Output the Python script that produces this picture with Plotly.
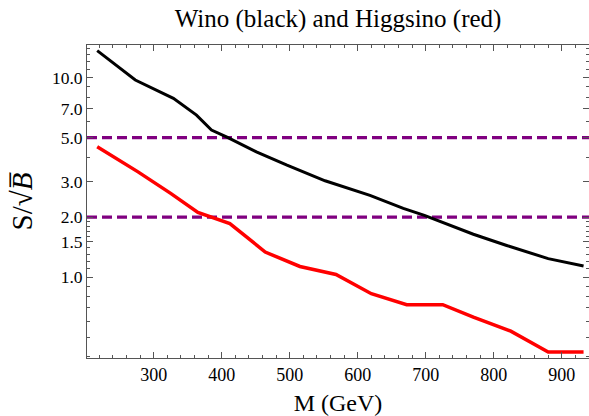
import plotly.graph_objects as go

# Wino (black) curve
wino_mass = [217, 273, 329, 363, 385, 407, 451, 496, 552, 618, 667, 698, 770, 819, 880, 932]
wino_sig = [13.67, 9.74, 7.88, 6.49, 5.46, 5.05, 4.25, 3.64, 3.04, 2.57, 2.21, 2.04, 1.64, 1.44, 1.237, 1.136]

# Higgsino (red) curve
higgsino_mass = [217, 277, 325, 365, 412, 464, 515, 568, 620, 672, 725, 770, 825, 880, 932]
higgsino_sig = [4.50, 3.37, 2.63, 2.11, 1.855, 1.335, 1.13, 1.03, 0.825, 0.727, 0.727, 0.63, 0.535, 0.421, 0.421]

# reference significance levels
levels = [5.0, 2.0]

x_major = [300, 400, 500, 600, 700, 800, 900]
x_minor = [v for v in range(220, 940, 20) if v % 100 != 0]
y_major = [1.0, 1.5, 2.0, 3.0, 5.0, 7.0, 10.0]
y_major_text = ["1.0", "1.5", "2.0", "3.0", "5.0", "7.0", "10.0"]
y_minor = [0.4, 0.5, 0.6, 0.7, 0.8, 0.9, 1.1, 1.2, 1.3, 1.4, 1.6, 1.7, 1.8, 1.9,
           4.0, 6.0, 8.0, 9.0, 11.0, 12.0, 13.0, 14.0]

x_range = [202, 940]

fig = go.Figure()
for lv in levels:
    fig.add_trace(go.Scatter(x=x_range, y=[lv, lv], mode="lines",
                             line=dict(color="#800080", width=3.2, dash="10px,5px"),
                             hoverinfo="skip", showlegend=False))
fig.add_trace(go.Scatter(x=wino_mass, y=wino_sig, mode="lines",
                         line=dict(color="black", width=3), showlegend=False))
fig.add_trace(go.Scatter(x=higgsino_mass, y=higgsino_sig, mode="lines",
                         line=dict(color="#ff0000", width=3.5), showlegend=False))

font_family = "Liberation Serif"
fig.update_layout(
    width=589, height=416,
    margin=dict(l=87, r=0, t=45, b=58),
    paper_bgcolor="white", plot_bgcolor="white",
    font=dict(family=font_family, color="black"),
    title=dict(text="Wino (black) and Higgsino (red)", x=0.574, xanchor="center",
               y=0.957, yanchor="middle", font=dict(size=25, family=font_family)),
    showlegend=False,
)
fig.update_xaxes(
    range=x_range, tickmode="array", tickvals=x_major,
    ticks="inside", ticklen=6, tickcolor="#555", tickwidth=1,
    minor=dict(tickmode="array", tickvals=x_minor, ticks="inside", ticklen=3, tickcolor="#555"),
    showline=True, linecolor="#555", linewidth=1, mirror="ticks",
    showgrid=False, zeroline=False,
    tickfont=dict(size=18, family=font_family),
    title=dict(text="M (GeV)", font=dict(size=24, family=font_family), standoff=16),
)
fig.update_yaxes(
    type="log", range=[-0.406, 1.164], tickmode="array",
    tickvals=y_major, ticktext=y_major_text,
    ticks="inside", ticklen=6, tickcolor="#555", tickwidth=1,
    minor=dict(tickmode="array", tickvals=y_minor, ticks="inside", ticklen=3, tickcolor="#555"),
    showline=True, linecolor="#555", linewidth=1, mirror="ticks",
    showgrid=False, zeroline=False,
    tickfont=dict(size=17.5, family=font_family),
    title=dict(text="S/√<i>B̅</i>", font=dict(size=29, family=font_family), standoff=10),
)
fig.write_html("out.html", config={"displayModeBar": False},
               post_script="document.body.style.margin='0px';document.body.style.overflow='hidden';")
